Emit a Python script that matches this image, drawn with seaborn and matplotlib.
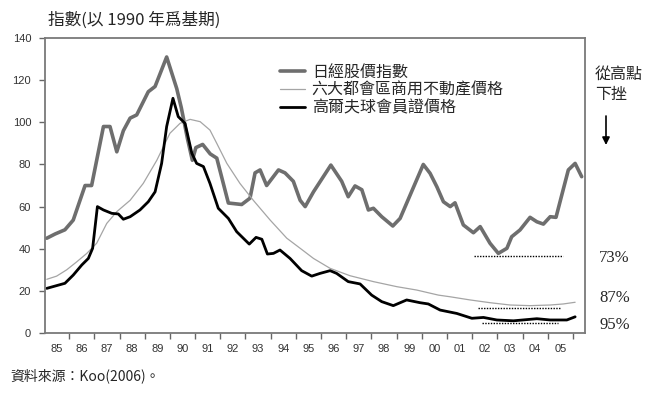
import pandas as pd
import matplotlib
matplotlib.use('Agg')
import matplotlib.pyplot as plt
import seaborn as sns

# 樣式與字型
sns.set_style('white')
plt.rcParams['font.family'] = ['Noto Sans CJK TC', 'DejaVu Sans']
plt.rcParams['axes.unicode_minus'] = False

# 日經股價指數
nikkei_year = [1985.11, 1985.44, 1985.83, 1986.16, 1986.63, 1986.89, 1987.36, 1987.62, 1987.89,
               1988.15, 1988.42, 1988.68, 1989.14, 1989.41, 1989.87, 1990.27, 1990.45, 1990.70,
               1990.89, 1991.03, 1991.30, 1991.60, 1991.86, 1992.32, 1992.85, 1993.18, 1993.38,
               1993.58, 1993.84, 1994.31, 1994.57, 1994.90, 1995.17, 1995.37, 1995.70, 1996.39,
               1996.82, 1997.08, 1997.35, 1997.62, 1997.88, 1998.08, 1998.41, 1998.85, 1999.14,
               2000.06, 2000.33, 2000.60, 2000.86, 2001.13, 2001.32, 2001.65, 2002.05, 2002.32,
               2002.71, 2003.04, 2003.38, 2003.57, 2003.90, 2004.30, 2004.57, 2004.83, 2005.10,
               2005.33, 2005.56, 2005.82, 2006.09, 2006.35]
nikkei_val = [45, 47, 49, 53.6, 70, 70, 98, 98, 86,
              96, 102, 103.5, 114.5, 117, 131, 116, 107, 92,
              82, 88, 89.5, 85, 83, 61.7, 61, 64, 76,
              77.4, 70, 77.4, 76, 72, 63, 60, 67, 79.7,
              72, 64.7, 69.8, 68, 58.4, 59.2, 55.2, 50.8, 54.4,
              80, 75.8, 69.4, 62.3, 60, 61.8, 51.3, 47.6, 50.5,
              42.6, 37.8, 40.2, 45.7, 48.9, 54.9, 52.8, 51.7, 55.2,
              54.9, 65.5, 77.4, 80.5, 74.2]

# 六大都會區商用不動產價格
estate_year = [1985.11, 1985.50, 1985.90, 1986.30, 1986.70, 1987.09, 1987.49, 1987.89, 1988.42,
               1988.94, 1989.48, 1990.00, 1990.40, 1990.80, 1991.20, 1991.59, 1991.86, 1992.26,
               1992.78, 1993.31, 1993.98, 1994.64, 1995.25, 1995.70, 1996.36, 1997.15, 1998.08,
               1999.01, 1999.80, 2000.66, 2001.13, 2001.92, 2002.71, 2003.51, 2004.30, 2005.10,
               2005.62, 2006.09]
estate_val = [25.5, 27, 30, 33.8, 37.8, 42.6, 52, 57.6, 63,
              71, 82, 94.8, 99.5, 101.4, 100.3, 96.3, 90, 80.5,
              71, 63, 53.6, 45, 39.5, 35.4, 30.7, 27.2, 24.4,
              22, 20.4, 18, 17.2, 15.7, 14.4, 13.3, 13, 13.3,
              13.8, 14.6]

# 高爾夫球會員證價格
golf_year = [1985.11, 1985.44, 1985.83, 1986.16, 1986.50, 1986.76, 1986.93, 1987.12, 1987.36,
             1987.69, 1987.95, 1988.15, 1988.42, 1988.81, 1989.14, 1989.41, 1989.67, 1989.87,
             1990.12, 1990.33, 1990.60, 1990.87, 1991.06, 1991.33, 1991.59, 1991.92, 1992.32,
             1992.65, 1993.15, 1993.42, 1993.65, 1993.87, 1994.11, 1994.37, 1994.77, 1995.23,
             1995.63, 1995.96, 1996.36, 1996.62, 1997.08, 1997.55, 1998.01, 1998.41, 1998.87,
             1999.40, 1999.93, 2000.26, 2000.73, 2001.39, 2001.99, 2002.45, 2002.98, 2003.64,
             2004.57, 2005.10, 2005.76, 2006.09]
golf_val = [21.2, 22.3, 23.6, 27.5, 32.3, 35.4, 40.2, 60, 58.4,
            56.8, 56.5, 54, 55.2, 58.4, 62.3, 67, 80.5, 98,
            111.4, 102.7, 99.5, 85.3, 80.5, 79, 71, 59.2, 54.4,
            48.1, 42.2, 45.4, 44.5, 37.5, 37.8, 39.4, 35.4, 29.6,
            27, 28.3, 29.6, 28.3, 24.4, 23.3, 18, 14.9, 13,
            15.7, 14.4, 13.8, 10.9, 9.3, 7, 7.4, 6.2, 5.8,
            6.8, 6.2, 6.2, 7.7]

labels = ['日經股價指數', '六大都會區商用不動產價格', '高爾夫球會員證價格']
year_labels = ['85', '86', '87', '88', '89', '90', '91', '92', '93', '94', '95',
               '96', '97', '98', '99', '00', '01', '02', '03', '04', '05']
drop_labels = ['73%', '87%', '95%']
drop_level = [36.5, 12, 4.6]
drop_start = [2002.09, 2002.25, 2002.38]
drop_end = [2005.62, 2005.49, 2005.39]

df = pd.concat([
    pd.DataFrame({'年': nikkei_year, '指數': nikkei_val, '系列': labels[0]}),
    pd.DataFrame({'年': estate_year, '指數': estate_val, '系列': labels[1]}),
    pd.DataFrame({'年': golf_year, '指數': golf_val, '系列': labels[2]}),
])

fig = plt.figure(figsize=(6.67, 3.96), dpi=100)
ax = fig.add_axes([0.0675, 0.159, 0.8095, 0.745])

palette = {labels[0]: '#6e6e6e', labels[1]: '#a5a5a5', labels[2]: '#000000'}
sizes = {labels[0]: 2.6, labels[1]: 0.9, labels[2]: 2.0}
sns.lineplot(data=df, x='年', y='指數', hue='系列', size='系列', sizes=sizes,
             palette=palette, estimator=None, sort=False, ax=ax)

# 從高點下挫的虛線
for lv, s, e in zip(drop_level, drop_start, drop_end):
    ax.hlines(lv, s, e, colors='black', linestyles=(0, (1, 1)), linewidth=1.0)

ax.set_xlim(1985.04, 2006.48)
ax.set_ylim(0, 140)
ax.set_yticks(range(0, 141, 20))
ax.set_xticks(range(1986, 2007))
ax.set_xticklabels([])
ax.set_xticks([1985.5 + i for i in range(len(year_labels))], minor=True)
ax.set_xticklabels(year_labels, minor=True)
ax.tick_params(axis='x', which='major', direction='out', length=4, width=1, color='#666666', bottom=True)
ax.tick_params(axis='x', which='minor', length=0, pad=8, labelsize=8, labelcolor='#333333')
ax.tick_params(axis='y', direction='out', length=4, width=1, color='#666666', left=True,
               labelsize=8, labelcolor='#333333', pad=6)
for lab in ax.get_xticklabels(minor=True) + ax.get_yticklabels():
    lab.set_family('Liberation Sans')
ax.set_xlabel('')
ax.set_ylabel('')
for sp in ax.spines.values():
    sp.set_color('#7a7a7a')
    sp.set_linewidth(1.3)

handles, _ = ax.get_legend_handles_labels()
ax.legend(handles[-3:] if len(handles) > 3 else handles, labels, loc='upper left',
          bbox_to_anchor=(0.423, 0.935), frameon=False, fontsize=11.5,
          handlelength=1.6, handletextpad=0.4, labelspacing=0.05, borderaxespad=0)

fig.text(48 / 667, 1 - 20 / 396, '指數(以 1990 年爲基期)', fontsize=12, va='center', ha='left')
fig.text(10 / 667, 1 - 376 / 396, '資料來源：Koo(2006)。', fontsize=10, va='center', ha='left')
fig.text(595 / 667, 1 - 66 / 396, '從高點\n下挫', fontsize=11.5, va='top', ha='left', linespacing=1.25)
fig.patches.append(matplotlib.patches.FancyArrowPatch(
    (606 / 667, 1 - 116 / 396), (606 / 667, 1 - 145 / 396), transform=fig.transFigure,
    arrowstyle='-|>', mutation_scale=11, color='black', linewidth=1.2,
    shrinkA=0, shrinkB=0))

for txt, y in zip(drop_labels, [258, 298, 325]):
    fig.text(599 / 667, 1 - y / 396, txt, fontsize=12, va='center', ha='left',
             family='Liberation Serif')

plt.savefig('out.png', dpi=100)
